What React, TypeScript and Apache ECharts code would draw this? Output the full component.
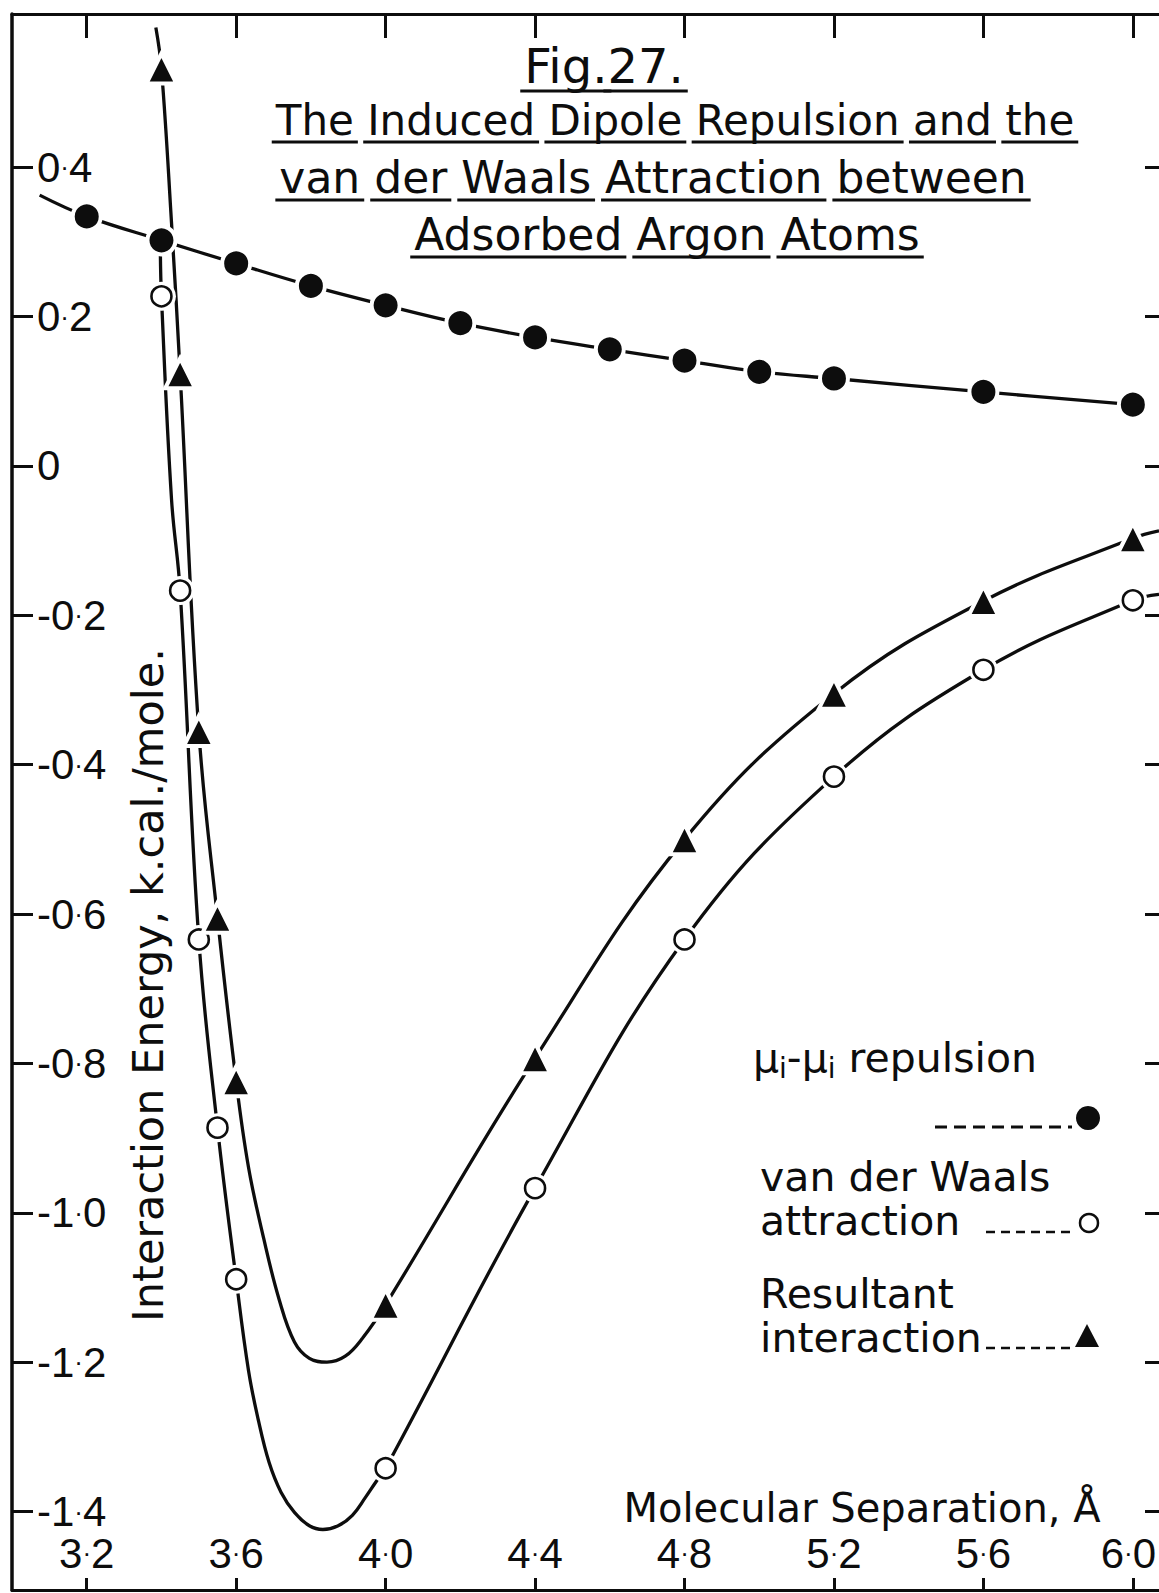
import React, { useEffect, useRef } from "react";
import * as echarts from "echarts";

// ---- Axis ticks ----
const xTicks = [3.2, 3.6, 4.0, 4.4, 4.8, 5.2, 5.6, 6.0];
const yTicks = [0.4, 0.2, 0, -0.2, -0.4, -0.6, -0.8, -1.0, -1.2, -1.4];

// ---- Plotted markers ----
const repulsionX = [3.2, 3.4, 3.6, 3.8, 4.0, 4.2, 4.4, 4.6, 4.8, 5.0, 5.2, 5.6, 6.0];
const repulsionY = [0.334, 0.302, 0.271, 0.241, 0.215, 0.191, 0.172, 0.156, 0.141, 0.126, 0.117, 0.099, 0.082];

const attractionX = [3.4, 3.45, 3.5, 3.55, 3.6, 4.0, 4.4, 4.8, 5.2, 5.6, 6.0];
const attractionY = [0.227, -0.167, -0.634, -0.886, -1.089, -1.342, -0.967, -0.634, -0.416, -0.273, -0.18];

const resultantX = [3.4, 3.45, 3.5, 3.55, 3.6, 4.0, 4.4, 4.8, 5.2, 5.6, 6.0];
const resultantY = [0.532, 0.124, -0.355, -0.605, -0.824, -1.123, -0.793, -0.5, -0.305, -0.181, -0.097];

// ---- Drawn curves ----
const repulsionCurveX = [3.074, 3.2, 3.4, 3.6, 3.8, 4.0, 4.2, 4.4, 4.6, 4.8, 5.0, 5.2, 5.6, 6.0];
const repulsionCurveY = [0.3625, 0.334, 0.302, 0.271, 0.241, 0.215, 0.191, 0.172, 0.156, 0.141, 0.126, 0.117, 0.099, 0.082];

const attractionCurveX = [3.397, 3.4, 3.427, 3.45, 3.5, 3.55, 3.6, 3.633, 3.66, 3.688, 3.72, 3.756, 3.796, 3.832, 3.873, 3.911, 3.946, 3.973, 4.0, 4.4, 4.8, 5.2, 5.6, 6.0, 6.07];
const attractionCurveY = [0.29, 0.227, -0.045, -0.167, -0.634, -0.886, -1.089, -1.211, -1.279, -1.334, -1.374, -1.401, -1.419, -1.424, -1.419, -1.405, -1.381, -1.361, -1.342, -0.967, -0.634, -0.416, -0.273, -0.18, -0.172];

const resultantCurveX = [3.385, 3.4, 3.427, 3.45, 3.5, 3.55, 3.6, 3.633, 3.674, 3.715, 3.756, 3.796, 3.843, 3.892, 3.938, 4.0, 4.4, 4.8, 5.2, 5.6, 6.0, 6.07];
const resultantCurveY = [0.587, 0.532, 0.325, 0.124, -0.355, -0.605, -0.824, -0.939, -1.035, -1.116, -1.173, -1.195, -1.2, -1.192, -1.168, -1.123, -0.793, -0.5, -0.305, -0.181, -0.097, -0.087];

// ---- Texts ----
const titleLines = [
  { parts: ["Fig.", "27."], sep: "", cx: 604, cy: 66, size: 48, uy: 91 },
  { parts: ["The", "Induced", "Dipole", "Repulsion", "and", "the"], sep: " ", cx: 675, cy: 120, size: 42, uy: 142 },
  { parts: ["van", "der", "Waals", "Attraction", "between"], sep: " ", cx: 653, cy: 177, size: 44, uy: 200 },
  { parts: ["Adsorbed", "Argon", "Atoms"], sep: " ", cx: 667, cy: 234, size: 44, uy: 257 },
];
const yAxisTitle = "Interaction Energy, k.cal./mole.";
const xAxisTitle = "Molecular Separation, Å";
const legendTexts = ["van der Waals", "attraction", "Resultant", "interaction"];

const INK = "#0d0d0d";
const TEXT_FONT = '"DejaVu Sans", sans-serif';
const NUM_FONT = '"Liberation Sans", Arial, sans-serif';

const zip = (xs: number[], ys: number[]) => xs.map((x, i) => [x, ys[i]]);
const fmt = (v: number) => {
  if (Math.abs(v) < 1e-9) return "{d|0}";
  const [a, b] = v.toFixed(1).split(".");
  // the last label sits against the right edge, nudge it inward a little
  const last = v >= xTicks[xTicks.length - 1] - 1e-9;
  return `{d|${a}}{p|\u00b7}{${last ? "z" : "d"}|${b}}`;
};
const numRich = {
  d: { fontSize: 42, fontFamily: NUM_FONT, color: INK, lineHeight: 32 },
  z: { fontSize: 42, fontFamily: NUM_FONT, color: INK, lineHeight: 32, padding: [0, 9, 0, 0] },
  p: { fontSize: 26, fontFamily: NUM_FONT, color: INK, lineHeight: 32 },
};

export default function App() {
  const ref = useRef<HTMLDivElement>(null);

  useEffect(() => {
    document.body.style.margin = "0";
    const chart = echarts.init(ref.current!, null, { renderer: "svg" });

    const ctx = document.createElement("canvas").getContext("2d")!;
    const measure = (s: string, size: number) => {
      ctx.font = `${size}px "DejaVu Sans"`;
      return ctx.measureText(s).width;
    };

    const textStyle = (text: string, size: number, align: string) => ({
      text,
      fontSize: size,
      fontFamily: TEXT_FONT,
      fill: INK,
      textAlign: align,
      align,
      textVerticalAlign: "middle",
      verticalAlign: "middle",
    });

    const graphics: any[] = [];
    titleLines.forEach((ln) => {
      const text = ln.parts.join(ln.sep);
      const W = measure(text, ln.size);
      const x0 = ln.cx - W / 2;
      graphics.push({ type: "text", x: ln.cx, y: ln.cy, style: textStyle(text, ln.size, "center") });
      let idx = 0;
      ln.parts.forEach((p) => {
        const off = measure(text.slice(0, idx), ln.size);
        const w = measure(p, ln.size);
        graphics.push({
          type: "line",
          shape: { x1: x0 + off - 4, y1: ln.uy, x2: x0 + off + w + 4, y2: ln.uy },
          style: { stroke: INK, lineWidth: 3 },
        });
        idx += p.length + ln.sep.length;
      });
    });

    // y axis title (rotated)
    graphics.push({ type: "text", x: 148, y: 985, rotation: Math.PI / 2, style: textStyle(yAxisTitle, 43, "center") });
    // x axis title
    graphics.push({ type: "text", x: 862, y: 1508, style: textStyle(xAxisTitle, 40, "center") });

    // legend block
    graphics.push({
      type: "text",
      x: 753,
      y: 1058,
      style: {
        text: "{a|\u03bc}{b|i}{a|-\u03bc}{b|i}{a| repulsion}",
        fill: INK,
        textAlign: "left",
        align: "left",
        textVerticalAlign: "middle",
        verticalAlign: "middle",
        rich: {
          a: { fontSize: 41, fontFamily: TEXT_FONT, fill: INK, lineHeight: 48 },
          b: { fontSize: 28, fontFamily: TEXT_FONT, fill: INK, lineHeight: 30, verticalAlign: "bottom" },
        },
      },
    });
    graphics.push({
      type: "line",
      shape: { x1: 935, y1: 1127, x2: 1072, y2: 1127 },
      style: { stroke: INK, lineWidth: 3, lineDash: [12, 7] },
    });
    graphics.push({ type: "circle", shape: { cx: 1088, cy: 1118, r: 12 }, style: { fill: INK } });

    const legendPos = [
      { x: 760, y: 1177 },
      { x: 760, y: 1221 },
      { x: 760, y: 1294 },
      { x: 760, y: 1338 },
    ];
    legendTexts.forEach((t, i) => {
      graphics.push({ type: "text", x: legendPos[i].x, y: legendPos[i].y, style: textStyle(t, 41, "left") });
    });
    graphics.push({
      type: "line",
      shape: { x1: 986, y1: 1232, x2: 1074, y2: 1232 },
      style: { stroke: INK, lineWidth: 2.5, lineDash: [9, 6] },
    });
    graphics.push({
      type: "circle",
      shape: { cx: 1089, cy: 1223, r: 9 },
      style: { fill: "#fff", stroke: INK, lineWidth: 2.5 },
    });
    graphics.push({
      type: "line",
      shape: { x1: 986, y1: 1348, x2: 1070, y2: 1348 },
      style: { stroke: INK, lineWidth: 2.5, lineDash: [9, 6] },
    });
    graphics.push({
      type: "polygon",
      shape: { points: [[1087, 1324], [1075, 1347], [1099, 1347]] },
      style: { fill: INK },
    });

    const axisLineStyle = { color: INK, width: 3 };
    const tickStyle = { color: INK, width: 3 };

    const lineSeries = (name: string, xs: number[], ys: number[]) => ({
      name,
      type: "line",
      data: zip(xs, ys),
      smooth: 0.4,
      symbol: "none",
      lineStyle: { color: INK, width: 3.3 },
      z: 2,
    });

    chart.setOption({
      animation: false,
      backgroundColor: "#fff",
      grid: { left: 12, right: 0, top: 14, bottom: 3, containLabel: false, outerBoundsMode: "none" },
      xAxis: [
        {
          type: "value",
          position: "bottom",
          min: 3.0,
          max: 6.07,
          axisLine: { show: true, onZero: false, lineStyle: axisLineStyle },
          axisTick: { show: true, inside: true, length: 12, lineStyle: tickStyle, customValues: xTicks },
          axisLabel: {
            show: true,
            inside: true,
            margin: 21,
            customValues: xTicks,
            formatter: fmt,
            rich: numRich,
            color: INK,
          },
          splitLine: { show: false },
        },
        {
          type: "value",
          position: "top",
          min: 3.0,
          max: 6.07,
          axisLine: { show: true, onZero: false, lineStyle: axisLineStyle },
          axisTick: { show: true, inside: true, length: 24, lineStyle: tickStyle, customValues: xTicks },
          axisLabel: { show: false },
          splitLine: { show: false },
        },
      ],
      yAxis: [
        {
          type: "value",
          position: "left",
          min: -1.505,
          max: 0.605,
          axisLine: { show: true, onZero: false, lineStyle: { color: INK, width: 3.5 } },
          axisTick: { show: true, inside: true, length: 21, lineStyle: tickStyle, customValues: yTicks },
          axisLabel: {
            show: true,
            inside: true,
            margin: 25,
            customValues: yTicks,
            formatter: fmt,
            rich: numRich,
            color: INK,
          },
          splitLine: { show: false },
        },
        {
          type: "value",
          position: "right",
          min: -1.505,
          max: 0.605,
          axisLine: { show: false },
          axisTick: { show: true, inside: true, length: 14, lineStyle: tickStyle, customValues: yTicks },
          axisLabel: { show: false },
          splitLine: { show: false },
        },
      ],
      series: [
        lineSeries("repulsion curve", repulsionCurveX, repulsionCurveY),
        lineSeries("attraction curve", attractionCurveX, attractionCurveY),
        lineSeries("resultant curve", resultantCurveX, resultantCurveY),
        {
          name: "\u03bci-\u03bci repulsion",
          type: "scatter",
          data: zip(repulsionX, repulsionY),
          symbol: "circle",
          symbolSize: 28,
          itemStyle: { color: INK, borderColor: "#fff", borderWidth: 4, opacity: 1 },
          z: 3,
        },
        {
          name: "attraction halo",
          type: "scatter",
          data: zip(attractionX, attractionY),
          symbol: "circle",
          symbolSize: 29,
          itemStyle: { color: "#fff", opacity: 1 },
          z: 3,
        },
        {
          name: "van der Waals attraction",
          type: "scatter",
          data: zip(attractionX, attractionY),
          symbol: "circle",
          symbolSize: 20,
          itemStyle: { color: "#fff", borderColor: INK, borderWidth: 2.6, opacity: 1 },
          z: 4,
        },
        {
          name: "Resultant interaction",
          type: "scatter",
          data: zip(resultantX, resultantY),
          symbol: "triangle",
          symbolSize: 30,
          itemStyle: { color: INK, borderColor: "#fff", borderWidth: 4, opacity: 1 },
          z: 4,
        },
      ],
      graphic: { elements: graphics },
    });

    return () => chart.dispose();
  }, []);

  return <div ref={ref} style={{ width: 1159, height: 1593, background: "#fff" }} />;
}
